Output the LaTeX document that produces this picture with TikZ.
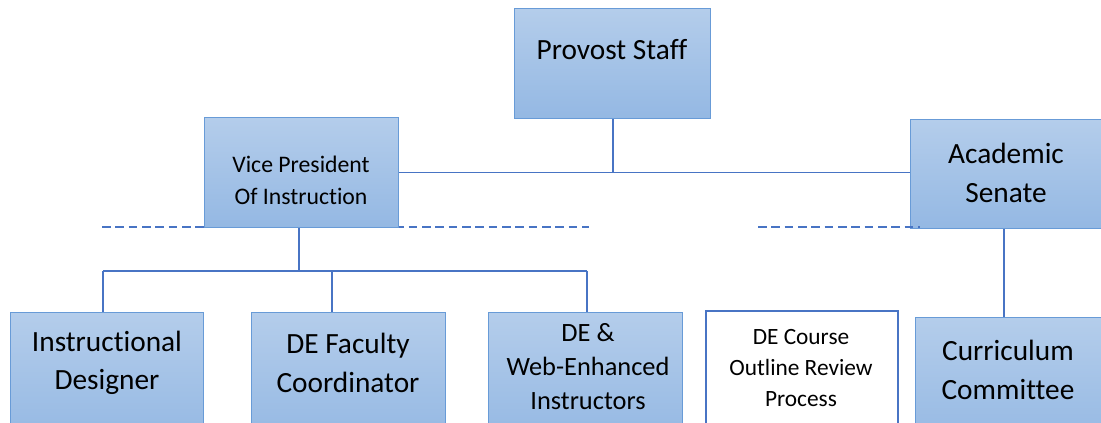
\documentclass[tikz,border=0pt]{standalone}
\usepackage{fontspec}
\setmainfont{Carlito}[Ligatures={CommonOff}]
\definecolor{boxtop}{RGB}{180,205,235}
\definecolor{boxbot}{RGB}{148,184,227}
\definecolor{boxline}{RGB}{104,155,215}
\definecolor{conn}{RGB}{72,116,196}
\tikzset{
  orgbox/.style={draw=boxline, line width=1pt, top color=boxtop, bottom color=boxbot, rectangle, inner sep=0pt, anchor=north west},
  plainbox/.style={draw=conn, line width=1.3pt, fill=white, rectangle, inner sep=0pt, anchor=north west},
  bigtxt/.style={font=\fontsize{22}{29}\selectfont, align=center, text=black, inner sep=0pt},
  vptxt/.style={font=\fontsize{17.8}{24}\selectfont, align=center, text=black, inner sep=0pt},
  midtxt/.style={font=\fontsize{19.8}{25.5}\selectfont, align=center, text=black, inner sep=0pt},
  smalltxt/.style={font=\fontsize{17.5}{23.3}\selectfont, align=center, text=black, inner sep=0pt},
  link/.style={draw=conn, line width=1pt},
  dashlink/.style={draw=conn, line width=1.2pt, dash pattern=on 6.5pt off 3.5pt}
}
\begin{document}
\begin{tikzpicture}[x=0.75pt,y=-0.75pt]
\useasboundingbox (0,0) rectangle (1101,423);
\clip (0,0) rectangle (1101,423);
% dashed lines (left one behind boxes)
\coordinate (dl1) at (102,227);
\coordinate (dl2) at (589,227);
\coordinate (dr1) at (758,227);
\coordinate (dr2) at (920,227);
\draw[dashlink] (dl1) -- (dl2);
% boxes
\node[orgbox, minimum width=147pt, minimum height=82.5pt] (prov) at (514,8) {};
\node[orgbox, minimum width=145.5pt, minimum height=82.5pt] (vp) at (204,117) {};
\node[orgbox, minimum width=150pt, minimum height=81.75pt] (sen) at (910,119) {};
\node[orgbox, minimum width=144.75pt, minimum height=97.5pt] (instr) at (10,312) {};
\node[orgbox, minimum width=145.5pt, minimum height=97.5pt] (fac) at (251,312) {};
\node[orgbox, minimum width=145.5pt, minimum height=97.5pt] (web) at (488,312) {};
\node[plainbox, minimum width=144pt, minimum height=97.5pt] (course) at (705,310) {};
\node[orgbox, minimum width=150pt, minimum height=97.5pt] (cur) at (915,317) {};
\draw[dashlink] (dr1) -- (dr2);
% texts
\node[bigtxt] (provt) at (612,50) {Provost Staff};
\node[vptxt] (vpt) at (301,180) {Vice President\\Of Instruction};
\node[bigtxt] (sent) at (1006,173) {Academic\\Senate};
\node[bigtxt] (instrt) at (107,363) {Instructional\\Designer};
\node[bigtxt] (fact) at (348,363) {DE Faculty\\Coordinator};
\node[midtxt] (webt) at (588,367) {DE \&\\Web-Enhanced\\Instructors};
\node[smalltxt] (courset) at (801,368) {DE Course\\Outline Review\\Process};
\node[bigtxt] (curt) at (1008,370) {Curriculum\\Committee};
% connectors
\coordinate (jtop) at (613,172);
\coordinate (jbot) at (299,271);
\coordinate (jl) at (103,271);
\coordinate (jm) at (332,271);
\coordinate (jr) at (587,271);
\draw[link] (613,0 |- prov.south) -- (jtop);
\draw[link] (vp.east) -- (vp.east -| sen.west);
\draw[link] (299,0 |- vp.south) -- (jbot);
\draw[link] (jl) -- (jr);
\draw[link] (jl) -- (jl |- instr.north);
\draw[link] (jm) -- (jm |- fac.north);
\draw[link] (jr) -- (jr |- web.north);
\draw[link] (1004,0 |- sen.south) -- (1004,0 |- cur.north);
\end{tikzpicture}
\end{document}
